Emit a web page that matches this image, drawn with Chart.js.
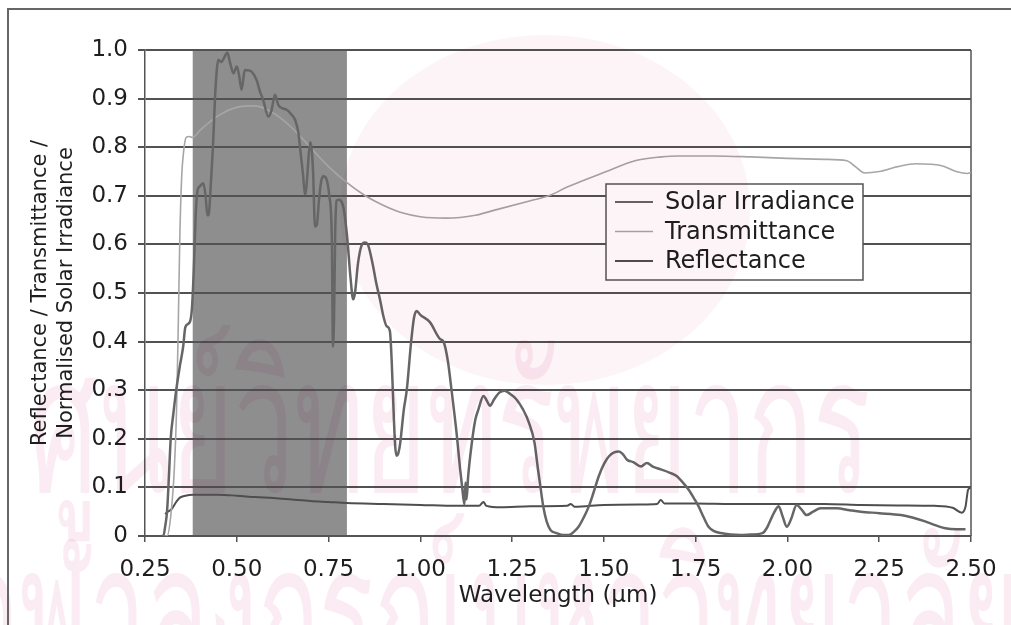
<!DOCTYPE html>
<html>
<head>
<meta charset="utf-8">
<script src="https://cdn.jsdelivr.net/npm/chart.js@4.4.1/dist/chart.umd.min.js"></script>
<style>
  html, body { margin: 0; padding: 0; background: #fff; }
  canvas { display: block; }
</style>
</head>
<body>
<canvas id="chart" width="1011" height="625"></canvas>
<script>
// ---- Spectral data (wavelength in µm) ----
const solarWl = [0.295,0.300,0.305,0.310,0.315,0.320,0.327,0.335,0.345,0.354,0.360,0.372,0.378,0.383,0.388,0.393,0.400,0.409,0.415,0.420,0.423,0.428,0.435,0.442,0.450,0.458,0.466,0.474,0.482,0.491,0.500,0.507,0.513,0.522,0.532,0.541,0.554,0.563,0.572,0.586,0.595,0.604,0.613,0.625,0.636,0.648,0.659,0.668,0.672,0.680,0.686,0.690,0.695,0.700,0.704,0.708,0.713,0.718,0.724,0.730,0.736,0.745,0.752,0.759,0.762,0.765,0.768,0.772,0.777,0.790,0.800,0.810,0.817,0.822,0.830,0.840,0.849,0.858,0.870,0.880,0.890,0.900,0.908,0.917,0.922,0.928,0.932,0.936,0.940,0.945,0.955,0.963,0.975,0.983,0.990,1.000,1.026,1.054,1.063,1.075,1.085,1.099,1.108,1.114,1.120,1.123,1.126,1.130,1.140,1.150,1.158,1.172,1.180,1.190,1.200,1.215,1.229,1.245,1.262,1.280,1.295,1.311,1.320,1.327,1.335,1.344,1.355,1.371,1.390,1.404,1.420,1.431,1.445,1.459,1.472,1.486,1.500,1.514,1.528,1.541,1.552,1.563,1.580,1.601,1.617,1.635,1.655,1.680,1.699,1.715,1.731,1.745,1.758,1.772,1.785,1.800,1.818,1.845,1.872,1.900,1.932,1.945,1.954,1.965,1.976,1.987,1.998,2.010,2.025,2.038,2.052,2.070,2.090,2.134,2.170,2.200,2.250,2.309,2.340,2.375,2.400,2.430,2.460,2.485];
const solarVal = [0.000,0.000,0.020,0.050,0.120,0.200,0.250,0.300,0.350,0.390,0.430,0.440,0.470,0.550,0.660,0.710,0.720,0.726,0.700,0.660,0.660,0.705,0.800,0.920,0.980,0.975,0.985,0.995,0.973,0.952,0.966,0.945,0.918,0.959,0.958,0.955,0.938,0.915,0.897,0.863,0.877,0.908,0.887,0.880,0.877,0.868,0.856,0.829,0.801,0.747,0.702,0.720,0.774,0.810,0.795,0.747,0.637,0.640,0.692,0.730,0.740,0.733,0.700,0.610,0.390,0.450,0.620,0.690,0.692,0.678,0.620,0.530,0.487,0.500,0.560,0.598,0.604,0.598,0.560,0.520,0.487,0.450,0.432,0.422,0.360,0.240,0.180,0.165,0.170,0.190,0.260,0.300,0.400,0.450,0.463,0.455,0.440,0.405,0.400,0.360,0.300,0.210,0.140,0.100,0.065,0.110,0.075,0.120,0.190,0.240,0.260,0.288,0.280,0.268,0.280,0.295,0.299,0.292,0.281,0.260,0.235,0.192,0.140,0.102,0.060,0.030,0.012,0.006,0.002,0.002,0.010,0.019,0.038,0.061,0.090,0.123,0.148,0.164,0.172,0.174,0.168,0.157,0.152,0.143,0.150,0.142,0.137,0.130,0.123,0.110,0.095,0.078,0.061,0.038,0.019,0.010,0.006,0.003,0.002,0.003,0.006,0.018,0.033,0.050,0.061,0.040,0.019,0.035,0.064,0.055,0.043,0.050,0.057,0.057,0.053,0.050,0.047,0.043,0.038,0.030,0.023,0.016,0.014,0.014];

const transWl = [0.300,0.310,0.320,0.330,0.336,0.341,0.345,0.350,0.355,0.362,0.370,0.380,0.400,0.450,0.500,0.550,0.600,0.650,0.700,0.750,0.800,0.850,0.900,0.950,1.000,1.070,1.150,1.200,1.300,1.350,1.400,1.500,1.590,1.657,1.700,1.800,1.900,2.000,2.100,2.162,2.185,2.210,2.250,2.300,2.350,2.420,2.460,2.490,2.500];
const transVal = [0.000,0.000,0.040,0.140,0.260,0.450,0.620,0.740,0.790,0.820,0.822,0.820,0.835,0.865,0.882,0.885,0.870,0.840,0.800,0.760,0.727,0.700,0.680,0.665,0.657,0.654,0.660,0.670,0.690,0.700,0.718,0.748,0.773,0.780,0.782,0.782,0.780,0.777,0.775,0.772,0.760,0.747,0.750,0.760,0.766,0.762,0.750,0.746,0.748];

const reflWl = [0.305,0.312,0.322,0.335,0.345,0.360,0.380,0.450,0.500,0.550,0.600,0.650,0.700,0.750,0.800,0.900,1.000,1.100,1.160,1.172,1.180,1.220,1.300,1.400,1.410,1.420,1.500,1.600,1.645,1.655,1.665,1.750,1.850,2.000,2.100,2.200,2.300,2.400,2.450,2.475,2.485,2.492,2.500];
const reflVal = [0.045,0.050,0.055,0.070,0.079,0.083,0.085,0.085,0.083,0.080,0.078,0.075,0.072,0.070,0.068,0.066,0.064,0.062,0.062,0.070,0.062,0.059,0.061,0.062,0.066,0.060,0.064,0.065,0.066,0.074,0.067,0.067,0.066,0.066,0.066,0.064,0.063,0.062,0.058,0.048,0.060,0.095,0.100];

// Visible band shaded on the plot (µm)
const bandRange = [0.38, 0.80];

// Axis tick labels
const xTickLabels = ['0.25','0.50','0.75','1.00','1.25','1.50','1.75','2.00','2.25','2.50'];
const yTickLabels = ['0','0.1','0.2','0.3','0.4','0.5','0.6','0.7','0.8','0.9','1.0'];

const seriesNames = ['Solar Irradiance', 'Transmittance', 'Reflectance'];

const toPoints = (xs, ys) => xs.map((w, i) => ({ x: w, y: ys[i] }));

const FONT = '"DejaVu Sans", sans-serif';
const TEXT = '#1e1e1e';

// Shaded band, white background, legend box, stamp and page frame
const plotDecor = {
  id: 'plotDecor',
  beforeDraw(chart) {
    const { ctx, chartArea: a, scales: { x } } = chart;
    ctx.save();
    ctx.fillStyle = '#ffffff';
    ctx.fillRect(0, 0, chart.width, chart.height);
    const x0 = x.getPixelForValue(bandRange[0]);
    const x1 = x.getPixelForValue(bandRange[1]);
    ctx.fillStyle = '#8e8e8e';
    ctx.fillRect(x0, a.top, x1 - x0, a.bottom - a.top);
    ctx.restore();
  },
  beforeDatasetsDraw(chart) {
    const { ctx, chartArea: a } = chart;
    ctx.save();
    ctx.strokeStyle = '#555';
    ctx.lineWidth = 1.5;
    ctx.beginPath();
    ctx.moveTo(a.right, a.top);
    ctx.lineTo(a.right, a.bottom);
    ctx.stroke();
    ctx.restore();
  },
  afterDatasetsDraw(chart) {
    const { ctx } = chart;
    const box = { x: 606, y: 184, w: 257, h: 96 };
    ctx.save();
    ctx.fillStyle = '#ffffff';
    ctx.fillRect(box.x, box.y, box.w, box.h);
    ctx.strokeStyle = '#555';
    ctx.lineWidth = 1.5;
    ctx.strokeRect(box.x, box.y, box.w, box.h);
    ctx.font = '24px ' + FONT;
    ctx.textBaseline = 'middle';
    ctx.textAlign = 'left';
    chart.data.datasets.forEach((ds, i) => {
      const yy = box.y + 18 + i * 29.5;
      ctx.strokeStyle = ds.borderColor;
      ctx.lineWidth = Math.min(ds.borderWidth, 2.2);
      ctx.beginPath();
      ctx.moveTo(box.x + 9, yy);
      ctx.lineTo(box.x + 47, yy);
      ctx.stroke();
      ctx.fillStyle = TEXT;
      ctx.fillText(ds.label, box.x + 59, yy + 1);
    });
    ctx.restore();
  },
  afterDraw(chart) {
    const { ctx } = chart;
    ctx.save();
    // faint library stamp printed over the page
    ctx.globalCompositeOperation = 'multiply';
    ctx.fillStyle = 'rgb(253,244,247)';
    ctx.beginPath();
    ctx.ellipse(545, 210, 205, 175, 0, 0, Math.PI * 2);
    ctx.fill();
    ctx.fillStyle = 'rgb(250,236,242)';
    const fit = (text, x, y, width, size) => {
      ctx.font = size + 'px ' + FONT;
      const m = ctx.measureText(text).width;
      ctx.save();
      ctx.translate(x, y);
      ctx.scale(width / m, 1);
      ctx.fillText(text, 0, 0);
      ctx.restore();
    };
    ctx.textBaseline = 'alphabetic';
    ctx.textAlign = 'left';
    fit('ศูนย์วิทยทรัพยากร', 30, 492, 840, 190);
    fit('จุฬาลงกรณ์มหาวิทยาลัย', -40, 680, 1060, 190);
    ctx.restore();

    // page frame
    ctx.save();
    ctx.strokeStyle = '#666';
    ctx.lineWidth = 2;
    ctx.beginPath();
    ctx.moveTo(8, 625);
    ctx.lineTo(8, 9);
    ctx.lineTo(1011, 9);
    ctx.stroke();
    ctx.restore();
  }
};

new Chart(document.getElementById('chart'), {
  type: 'line',
  data: {
    datasets: [
      { label: seriesNames[0], data: toPoints(solarWl, solarVal), borderColor: '#666666', borderWidth: 2.5 },
      { label: seriesNames[1], data: toPoints(transWl, transVal), borderColor: '#a6a6a6', borderWidth: 1.6 },
      { label: seriesNames[2], data: toPoints(reflWl, reflVal), borderColor: '#4e4e4e', borderWidth: 2 }
    ]
  },
  options: {
    responsive: false,
    animation: false,
    devicePixelRatio: 1,
    layout: { padding: { top: 50, right: 40, left: 0, bottom: 0 } },
    elements: {
      point: { radius: 0, hoverRadius: 0 },
      line: { cubicInterpolationMode: 'monotone', fill: false }
    },
    plugins: {
      legend: { display: false },
      tooltip: { enabled: false }
    },
    scales: {
      x: {
        type: 'linear',
        min: 0.25,
        max: 2.5,
        afterFit(s) { s.height = 89; },
        ticks: {
          stepSize: 0.25,
          autoSkip: false,
          maxRotation: 0,
          padding: 14,
          color: TEXT,
          font: { family: FONT, size: 23 },
          callback: (v, i) => xTickLabels[i]
        },
        grid: { drawOnChartArea: false, drawTicks: true, tickLength: 6, color: '#555', lineWidth: 1.5 },
        border: { display: true, color: '#555', width: 2 },
        title: {
          display: true,
          text: 'Wavelength (µm)',
          color: TEXT,
          font: { family: FONT, size: 23 },
          padding: { top: 0, bottom: 15 }
        }
      },
      y: {
        min: 0,
        max: 1,
        afterFit(s) { s.width = 145; },
        ticks: {
          stepSize: 0.1,
          padding: 10,
          color: TEXT,
          font: { family: FONT, size: 23 },
          callback: (v, i) => yTickLabels[i]
        },
        grid: { color: '#525252', lineWidth: 2, tickLength: 7 },
        border: { display: true, color: '#555', width: 1.5 },
        title: {
          display: true,
          text: ['Reflectance / Transmittance /', 'Normalised Solar Irradiance'],
          color: TEXT,
          font: { family: FONT, size: 21, lineHeight: 1.25 },
          padding: { top: 27, bottom: 0 }
        }
      }
    }
  },
  plugins: [plotDecor]
});
</script>
</body>
</html>
